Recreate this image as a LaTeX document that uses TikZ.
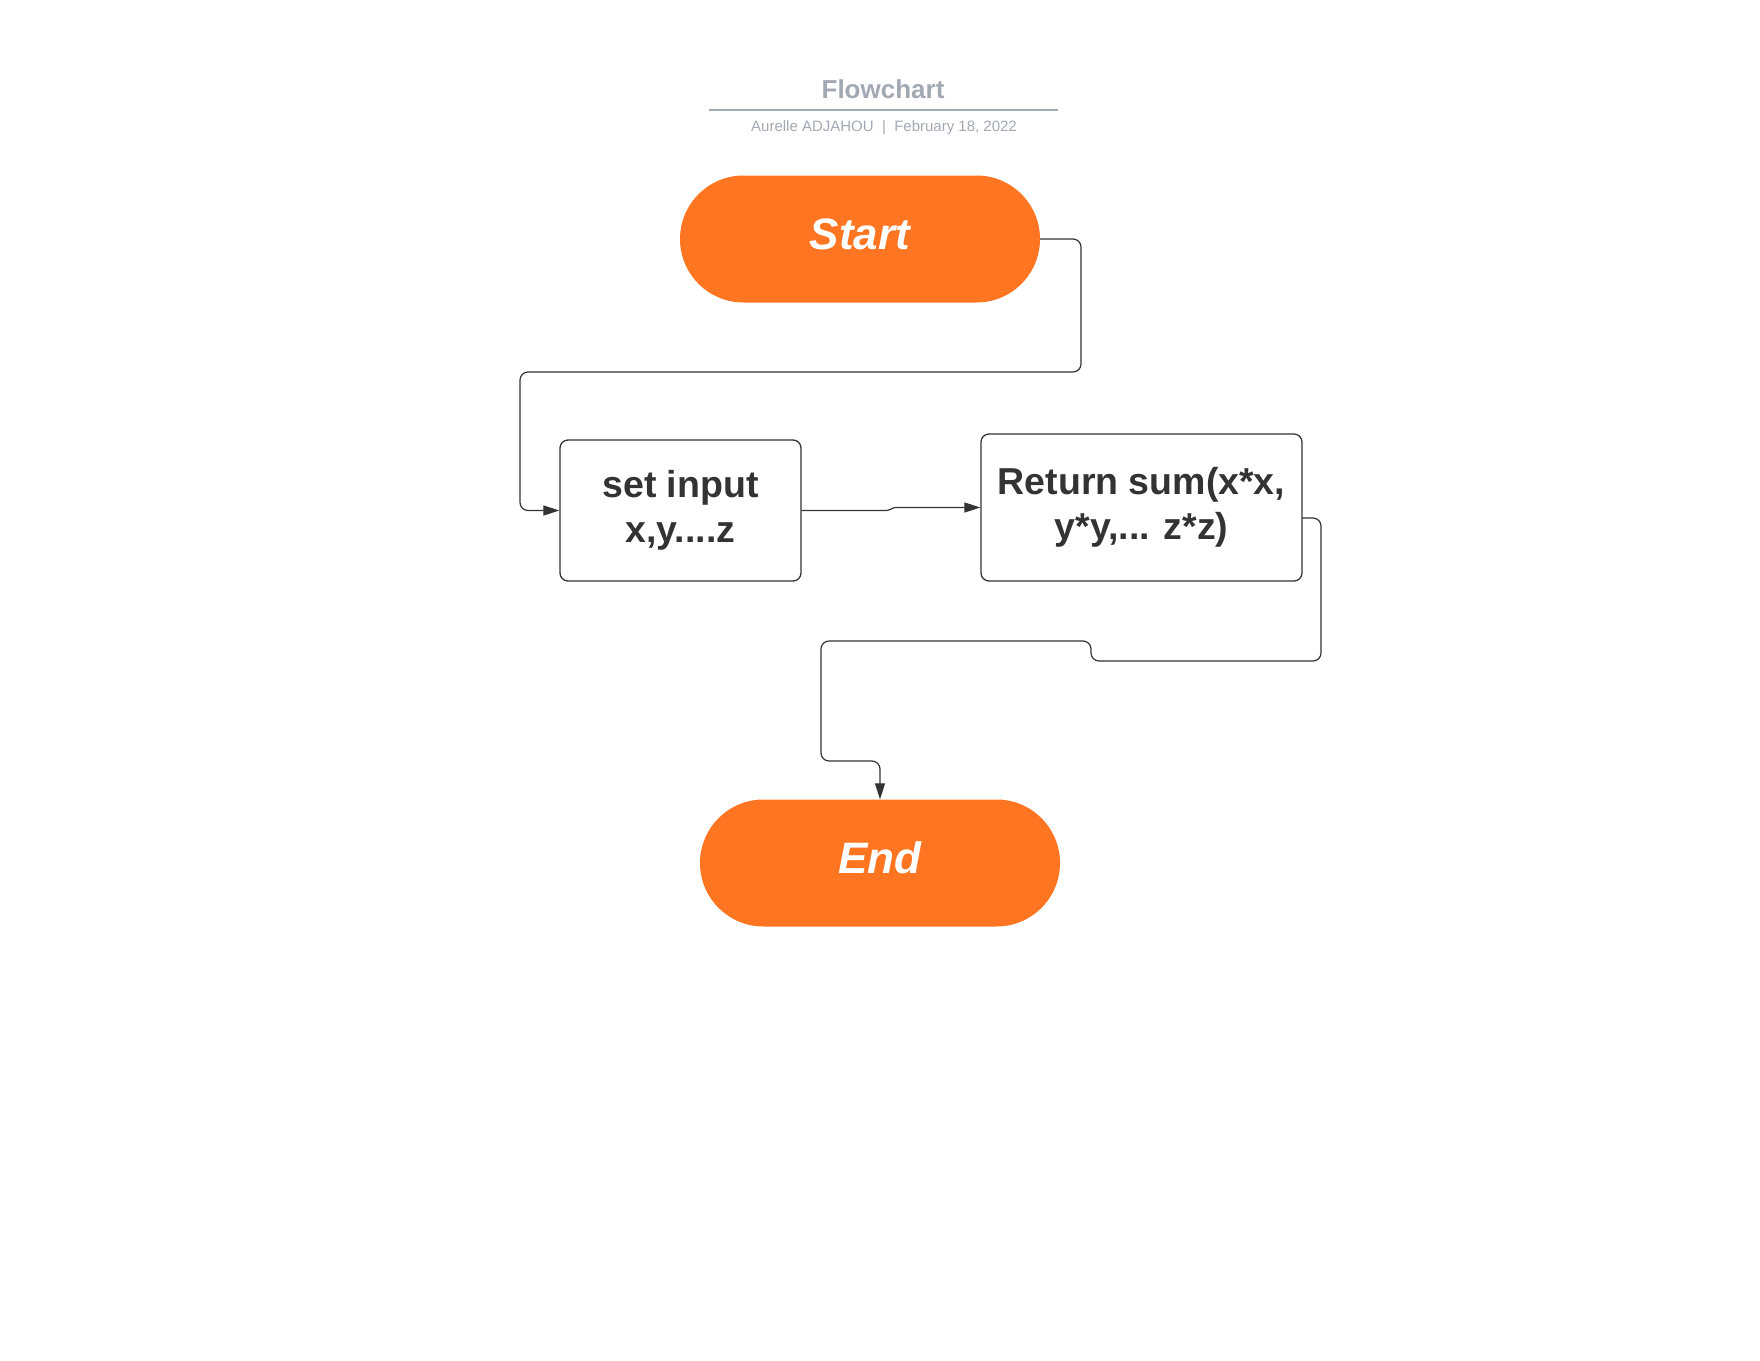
\documentclass[tikz,border=0pt]{standalone}
\usepackage{fontspec}
\setmainfont{Liberation Sans}
\usetikzlibrary{arrows.meta}
\definecolor{lorange}{HTML}{FF7521}
\definecolor{ltitle}{HTML}{A3A9B3}
\definecolor{ldark}{HTML}{333333}
\begin{document}
\begin{tikzpicture}[x=1pt,y=-1pt,
  term/.style={fill=lorange, draw=none, rounded corners=63.5pt, minimum width=360pt, minimum height=127pt, inner sep=0pt, text height=32pt, text depth=12pt, text=white, font=\fontsize{44}{50}\selectfont\bfseries\itshape},
  procbox/.style={draw=ldark, line width=1.3pt, rounded corners=8pt, fill=white, inner sep=0pt, text=ldark, align=center, font=\fontsize{37.5}{45}\selectfont\bfseries},
  conn/.style={draw=ldark, line width=1.2pt, rounded corners=8pt},
  arr/.style={conn, -{Triangle[length=16pt,width=10pt]}}
]
\useasboundingbox (0,0) rectangle (1760,1360);
% header
\node[font=\fontsize{26}{30}\selectfont\bfseries, text=ltitle] (title) at (883,89) {Flowchart};
\coordinate (rl) at (709,110);
\coordinate (rr) at (1058,110);
\draw[ltitle, line width=1.8pt] (rl) -- (rr);
\node[font=\fontsize{15}{18}\selectfont, text=ltitle] (sub) at (884,127.5) {Aurelle ADJAHOU\ \ |\ \ February 18, 2022};
% nodes
\node[term] (start) at (860,239) {Start};
\node[procbox, minimum width=241pt, minimum height=141pt] (inp) at (680.5,510.5) {set input\\x,y....z};
\node[procbox, minimum width=321pt, minimum height=147pt] (ret) at (1141.5,507.5) {Return sum(x*x,\\y*y,... z*z)};
\node[term] (end) at (880,863) {End};
% connector start -> input
\coordinate (a1) at (1081,239);
\coordinate (a2) at (1081,372);
\coordinate (a3) at (520,372);
\coordinate (a4) at (520,510.5);
\draw[arr] (start.east) -- (a1) -- (a2) -- (a3) -- (a4) -- (inp.west);
% connector input -> return
\coordinate (b1) at (889,510.5);
\coordinate (b2) at (893,507.5);
\draw[arr, rounded corners=2pt] (inp.east) -- (b1) -- (b2) -- (ret.west);
% connector return -> end
\coordinate (r0) at (1302,518);
\coordinate (r1) at (1321,518);
\coordinate (r2) at (1321,661);
\coordinate (r3) at (1091,661);
\coordinate (r4) at (1091,641);
\coordinate (r5) at (821,641);
\coordinate (r6) at (821,761);
\coordinate (r7) at (880,761);
\draw[arr] (r0) -- (r1) -- (r2) -- (r3) -- (r4) -- (r5) -- (r6) -- (r7) -- (end.north);
\end{tikzpicture}
\end{document}
